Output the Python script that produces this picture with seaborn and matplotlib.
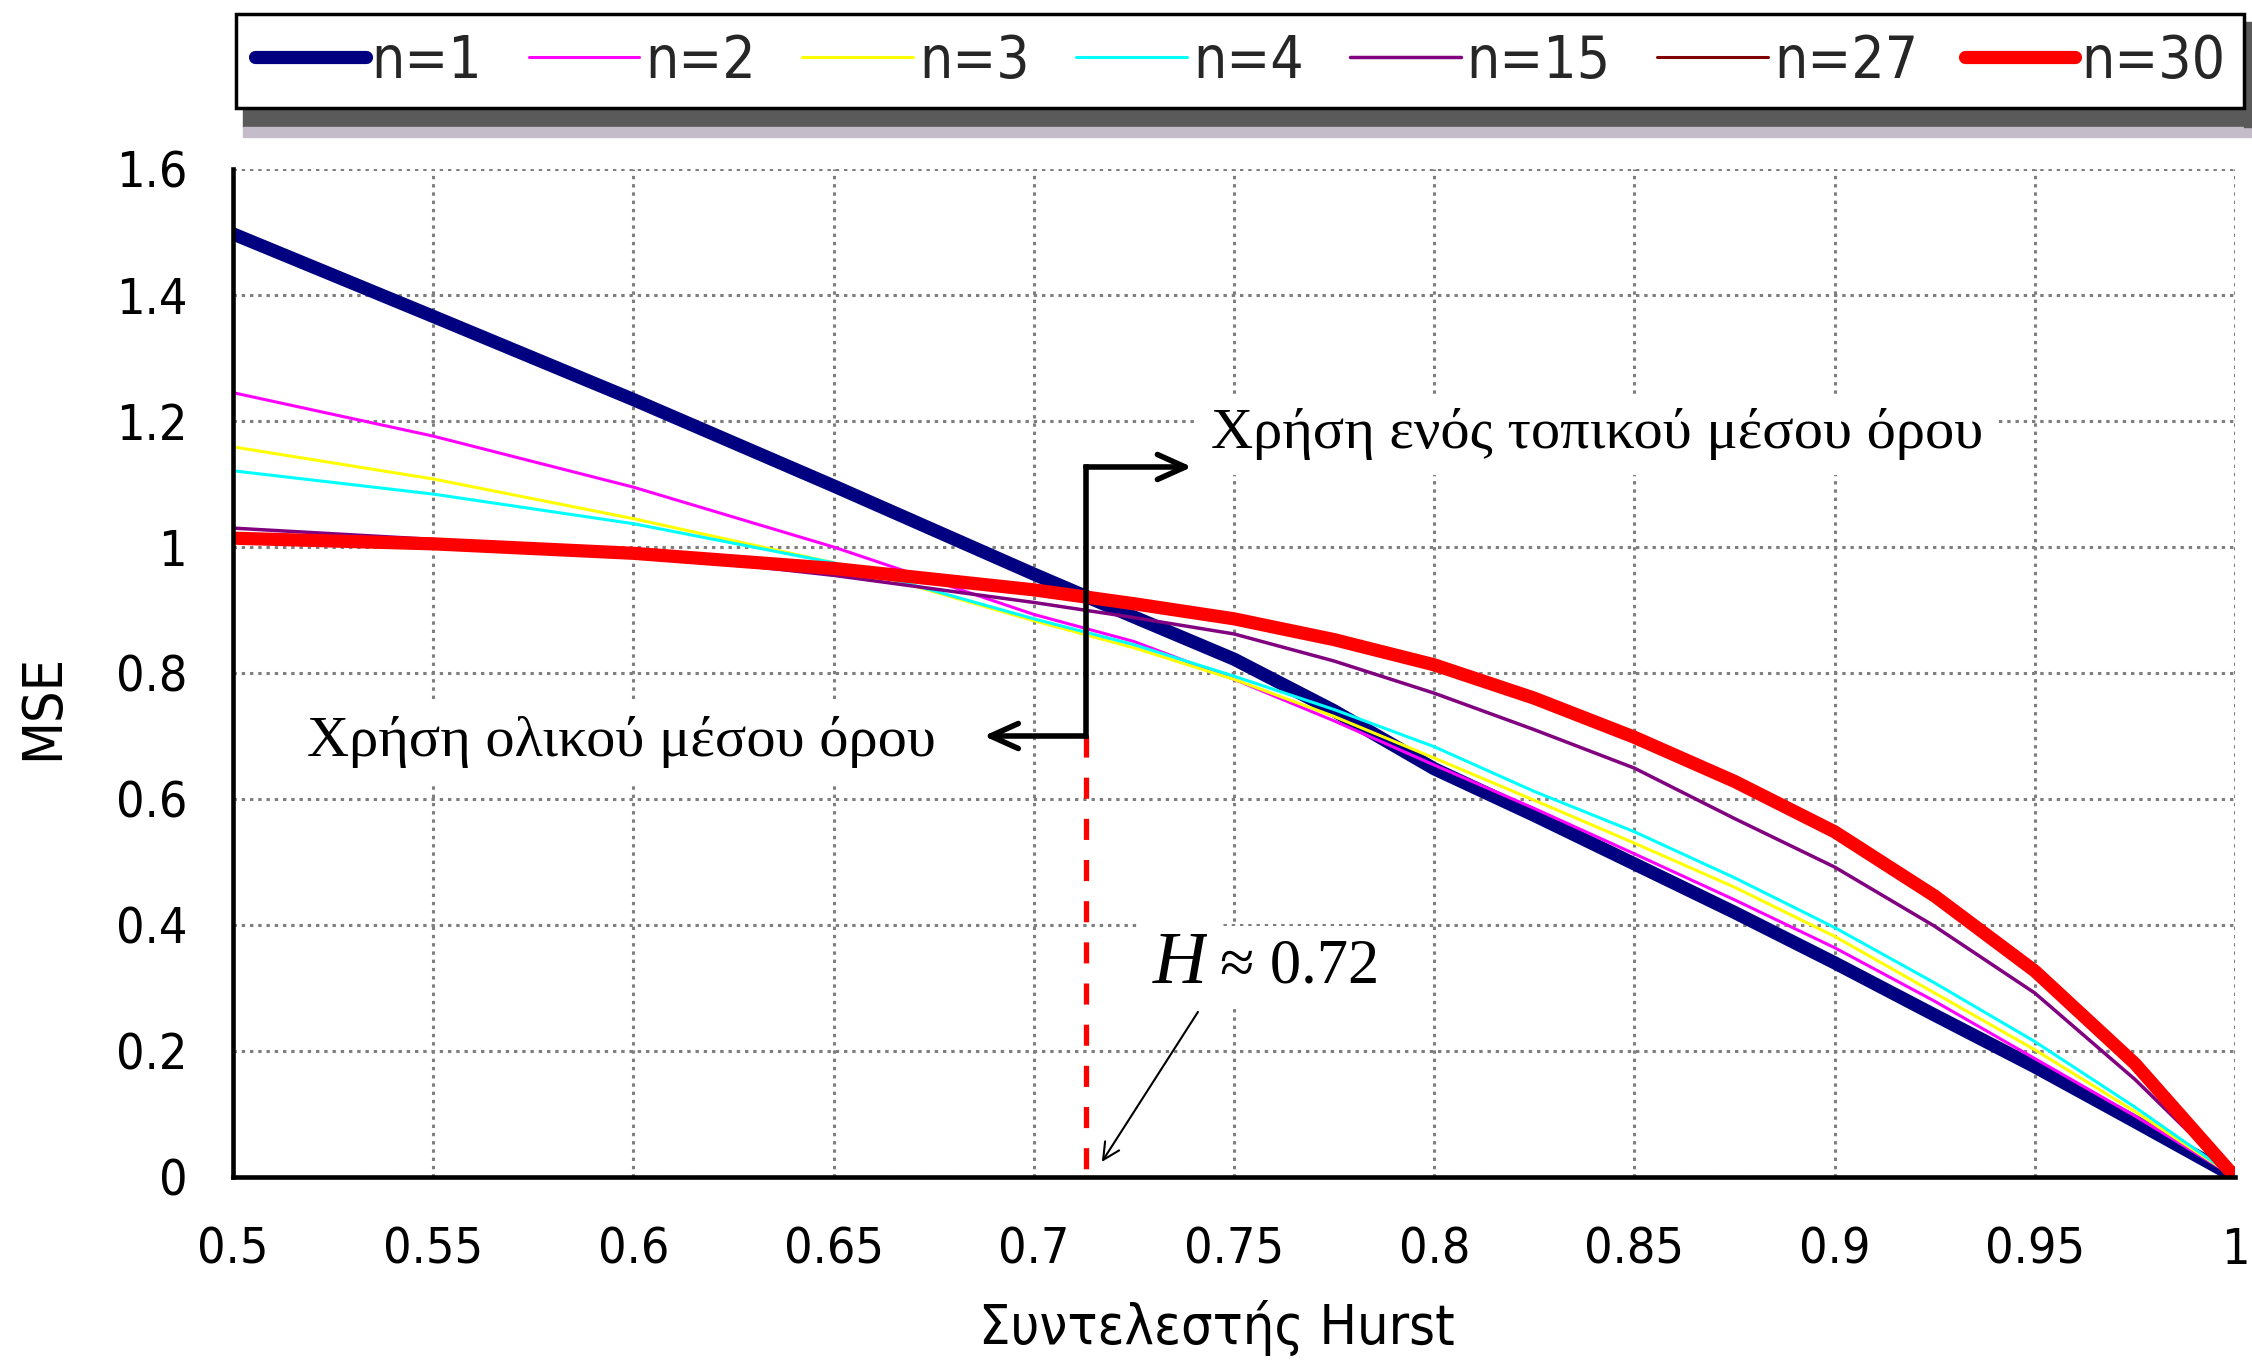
import numpy as np
import pandas as pd
import seaborn as sns
import matplotlib.pyplot as plt
from matplotlib.patches import Rectangle

# %% data
hurst = [0.5, 0.55, 0.6, 0.65, 0.7, 0.725, 0.75, 0.775, 0.8, 0.825, 0.85, 0.875,
         0.9, 0.925, 0.95, 0.975, 1.0]
mse_n1 = [1.497, 1.366, 1.234, 1.097, 0.957, 0.889, 0.822, 0.740, 0.648, 0.574, 0.497,
          0.420, 0.340, 0.257, 0.175, 0.088, 0.0]
mse_n2 = [1.245, 1.176, 1.095, 1.000, 0.893, 0.850, 0.790, 0.724, 0.654, 0.585, 0.513,
          0.440, 0.364, 0.279, 0.188, 0.097, 0.0]
mse_n3 = [1.159, 1.108, 1.045, 0.975, 0.883, 0.840, 0.790, 0.731, 0.665, 0.598, 0.530,
          0.460, 0.382, 0.292, 0.202, 0.104, 0.0]
mse_n4 = [1.121, 1.084, 1.037, 0.975, 0.886, 0.845, 0.795, 0.742, 0.683, 0.612, 0.548,
          0.475, 0.396, 0.308, 0.215, 0.111, 0.0]
mse_n15 = [1.030, 1.012, 0.990, 0.955, 0.912, 0.888, 0.862, 0.819, 0.768, 0.710, 0.649,
           0.569, 0.492, 0.398, 0.292, 0.155, 0.0]
mse_n27 = [1.011, 1.002, 0.987, 0.963, 0.929, 0.907, 0.883, 0.850, 0.810, 0.757, 0.695,
           0.625, 0.545, 0.443, 0.324, 0.178, 0.0]
mse_n30 = [1.014, 1.005, 0.990, 0.966, 0.932, 0.910, 0.886, 0.853, 0.813, 0.760, 0.698,
           0.628, 0.548, 0.446, 0.327, 0.180, 0.0]

series = [mse_n1, mse_n2, mse_n3, mse_n4, mse_n15, mse_n27, mse_n30]
labels = ["n=1", "n=2", "n=3", "n=4", "n=15", "n=27", "n=30"]
colors = ["#000080", "#FF00FF", "#FFFF00", "#00FFFF", "#800080", "#800000", "#FF0000"]
widths = [9.5, 2.2, 2.2, 2.2, 2.5, 2.2, 9.5]

xticks = [0.5, 0.55, 0.6, 0.65, 0.7, 0.75, 0.8, 0.85, 0.9, 0.95, 1.0]
xtick_labels = ["0.5", "0.55", "0.6", "0.65", "0.7", "0.75", "0.8", "0.85", "0.9", "0.95", "1"]
yticks = [0, 0.2, 0.4, 0.6, 0.8, 1.0, 1.2, 1.4, 1.6]
ytick_labels = ["0", "0.2", "0.4", "0.6", "0.8", "1", "1.2", "1.4", "1.6"]

h_cross = 0.713      # where the local / global mean curves cross
mse_split = 0.7      # level of the lower arrow
mse_upper = 1.127    # level of the upper arrow

# %% style
sns.set_theme(style="white")
plt.rcParams['font.family'] = ['DejaVu Sans']
plt.rcParams['font.stretch'] = 'condensed'
serif = ['Liberation Serif', 'DejaVu Serif']

W, H = 2252, 1362
fig = plt.figure(figsize=(W / 100, H / 100), dpi=100)
ax = fig.add_axes([233 / W, 1 - 1177 / H, 2002 / W, 1008 / H])

for vals, lab, col, lw in zip(series, labels, colors, widths):
    sns.lineplot(x=hurst, y=vals, color=col, linewidth=lw, label=lab, ax=ax)

ax.set_xlim(0.5, 1.0)
ax.set_ylim(0, 1.6)
ax.set_xticks(xticks)
ax.set_xticklabels(xtick_labels)
ax.set_yticks(yticks)
ax.set_yticklabels(ytick_labels)
ax.tick_params(axis='both', direction='out', length=12, width=2.5, color='black',
               labelcolor='black', labelsize=36)
ax.tick_params(axis='x', pad=23)
ax.tick_params(axis='y', pad=21)
for side in ['top', 'right']:
    ax.spines[side].set_visible(False)
for side in ['left', 'bottom']:
    ax.spines[side].set_color('black')
    ax.spines[side].set_linewidth(3.3)
ax.set_axisbelow(True)
ax.grid(True, color='#7f7f7f', linewidth=2.2, linestyle=(0, (1.1, 1.6)))

ax.set_xlabel("Συντελεστής Hurst", fontsize=40, color='black')
ax.xaxis.set_label_coords(0.4915, -0.1498)
ax.xaxis.label.set_va('center')
ax.set_ylabel("MSE", fontsize=40, color='black')
ax.yaxis.set_label_coords(-0.0949, 0.466)
ax.yaxis.label.set_va('center')

# annotations
ax.plot([h_cross, h_cross], [mse_split, 0], color='red', lw=3.8, ls=(0, (4, 3.8)))
ax.plot([h_cross, h_cross], [mse_split, mse_upper], color='black', lw=4,
        solid_capstyle='projecting')
ax.annotate('', xy=(0.7395, mse_upper), xytext=(h_cross, mse_upper),
            arrowprops=dict(arrowstyle='->,head_length=1.0,head_width=0.45', lw=4,
                            color='black', shrinkA=0, shrinkB=0, mutation_scale=20))
ax.annotate('', xy=(0.6875, mse_split), xytext=(h_cross, mse_split),
            arrowprops=dict(arrowstyle='->,head_length=1.0,head_width=0.45', lw=4,
                            color='black', shrinkA=0, shrinkB=0, mutation_scale=20))
ax.text(0.7443, 1.179, "Χρήση ενός τοπικού μέσου όρου", family=serif, fontsize=42,
        va='center', ha='left', color='black',
        bbox=dict(boxstyle='square,pad=0.25', fc='white', ec='none'))
ax.text(0.6756, 0.69, "Χρήση ολικού μέσου όρου", family=serif, fontsize=42,
        va='center', ha='right', color='black',
        bbox=dict(boxstyle='square,pad=0.25', fc='white', ec='none'))
ax.text(0.7298, 0.308, "H", family=serif, style='italic', fontsize=54,
        va='baseline', ha='left', color='black',
        bbox=dict(boxstyle='square,pad=0.2', fc='white', ec='none'))
ax.text(0.7465, 0.308, "≈ 0.72", family=serif, fontsize=45,
        va='baseline', ha='left', color='black',
        bbox=dict(boxstyle='square,pad=0.2', fc='white', ec='none'))
ax.annotate('', xy=(0.717, 0.024), xytext=(0.741, 0.262),
            arrowprops=dict(arrowstyle='->', lw=1.5, color='black',
                            shrinkA=0, shrinkB=0, mutation_scale=30))

# legend
handles, labs = ax.get_legend_handles_labels()
leg = ax.legend(handles, labs, loc='upper left', ncol=7, mode='expand',
                bbox_to_anchor=(236 / W, 1 - 14 / H, 2008 / W, 0),
                bbox_transform=fig.transFigure, fontsize=42, handlelength=1.9,
                handletextpad=0.1, borderpad=0.32, borderaxespad=0,
                frameon=True, fancybox=False, framealpha=1)
leg.get_frame().set_edgecolor('black')
leg.get_frame().set_linewidth(2.5)
leg.get_frame().set_facecolor('white')

# legend drop shadow
fig.add_artist(Rectangle((243 / W, 1 - 127 / H), (W - 243) / W, 19 / H,
                         transform=fig.transFigure, color='#5a5a5a', zorder=-1))
fig.add_artist(Rectangle((243 / W, 1 - 137 / H), (W - 243) / W, 10 / H,
                         transform=fig.transFigure, color='#c4bcc8', zorder=-1))
fig.add_artist(Rectangle((2244 / W, 1 - 127 / H), 8 / W, 105 / H,
                         transform=fig.transFigure, color='#5a5a5a', zorder=-1))

fig.savefig("out.png", dpi=100)
